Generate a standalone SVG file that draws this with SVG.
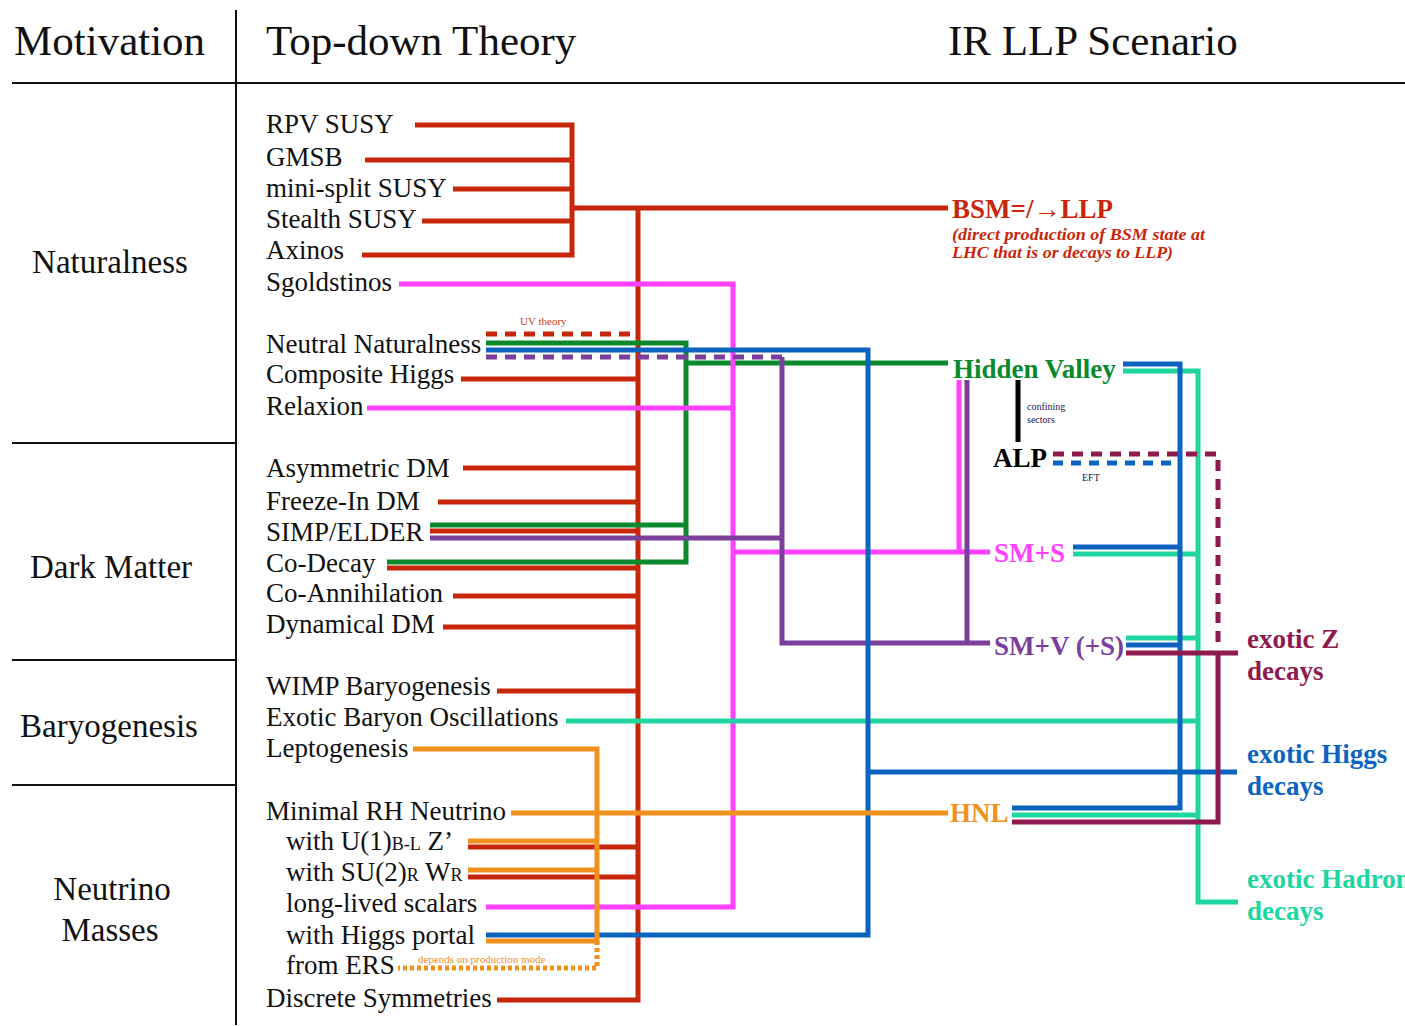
<svg xmlns="http://www.w3.org/2000/svg" width="1405" height="1026" viewBox="0 0 1405 1026">
  <style>
    text { font-family: "Liberation Serif", "Times New Roman", serif; fill: #111; }
    .hd { font-size: 43px; }
    .cat { font-size: 33px; text-anchor: middle; }
    .it { font-size: 27px; }
    .sub { font-size: 18px; }
    .lb { font-size: 27px; font-weight: bold; }
    .note { font-size: 11px; }
    .rule { stroke: #111; stroke-width: 2; fill: none; }
    .ln { fill: none; stroke-width: 5; stroke-linejoin: miter; stroke-linecap: butt; }
    .red { stroke: #c8260a; }
    .mag { stroke: #ff40ff; }
    .grn { stroke: #0a8a2c; }
    .pur { stroke: #7b3e9b; }
    .blu { stroke: #0b64c0; }
    .tea { stroke: #20d6a0; }
    .mar { stroke: #8e1a4e; }
    .org { stroke: #f2901e; }
    .blk { stroke: #000; }
    .dash { stroke-dasharray: 11 8; }
  </style>

  <!-- table frame -->
  <g id="frame">
    <path class="rule" d="M236,10 V1025"/>
    <path class="rule" d="M12,83 H1405"/>
    <path class="rule" d="M12,443 H236 M12,660 H236 M12,785 H236"/>
    <text class="hd" x="14" y="55">Motivation</text>
    <text class="hd" x="266" y="55">Top-down Theory</text>
    <text class="hd" x="948" y="55">IR LLP Scenario</text>
  </g>

  <!-- motivation categories -->
  <g id="motivations">
    <text id="cat-naturalness" class="cat" x="110" y="273">Naturalness</text>
    <text id="cat-dm" class="cat" x="111" y="578">Dark Matter</text>
    <text id="cat-baryogenesis" class="cat" x="109" y="737">Baryogenesis</text>
    <g id="cat-neutrino">
      <text class="cat" x="112" y="900">Neutrino</text>
      <text class="cat" x="110" y="941">Masses</text>
    </g>
  </g>

  <!-- connectors -->
  <g id="connectors">
    <!-- red: BSM produced directly -->
    <path class="ln red" d="M415,125 H572 V255 H362"/>
    <path class="ln red" d="M365,160 H572 M453,189 H572"/>
    <path class="ln red" d="M422,221 H572" stroke-width="7"/>
    <path class="ln red" d="M572,208 H948" stroke-width="4"/>
    <path class="ln red" d="M638,208 V1000 H497"/>
    <path class="ln red" d="M461,379 H638 M463,468 H638 M438,502 H638 M430,531 H638 M387,568 H638 M453,596 H638 M443,627 H638 M497,691 H638 M468,847 H638 M468,877 H638"/>
    <path class="ln red dash" d="M486,334 H632" stroke-width="7"/>

    <!-- green: hidden valley -->
    <path class="ln grn" d="M486,343 H686 V562 H387"/>
    <path class="ln grn" d="M430,525 H686 M686,363 H948"/>

    <!-- magenta: SM+S -->
    <path class="ln mag" d="M399,284 H733 V907 H486"/>
    <path class="ln mag" d="M367,408 H733 M733,552 H990"/>
    <path class="ln mag" d="M959,380 V552" stroke-width="6"/>

    <!-- purple: SM+V -->
    <path class="ln pur" d="M782,357 V643 H990 M430,538 H782"/>
    <path class="ln pur" d="M967,380 V643" stroke-width="6"/>
    <path class="ln pur dash" d="M486,357 H782" stroke-width="8"/>

    <!-- teal: exotic hadron decays -->
    <path class="ln tea" d="M1123,371 H1198 V902 H1238"/>
    <path class="ln tea" d="M1073,554 H1198 M1012,815 H1198"/>
    <path class="ln tea" d="M1126,638 H1198 M566,721 H1198" stroke-width="4"/>

    <!-- blue: exotic Higgs decays -->
    <path class="ln blu" d="M486,350 H868 V935 H486" stroke-width="6"/>
    <path class="ln blu" d="M868,772 H1237"/>
    <path class="ln blu" d="M1123,364 H1180 V808 H1012" stroke-width="7"/>
    <path class="ln blu" d="M1073,547 H1180" stroke-width="6"/>
    <path class="ln blu" d="M1126,645 H1180" stroke-width="4"/>
    <path class="ln blu" d="M1053,463 H1180" stroke-width="4" stroke-dasharray="10 8"/>

    <!-- maroon: exotic Z decays -->
    <path class="ln mar dash" d="M1053,454 H1218 V648" stroke-width="6"/>
    <path class="ln mar" d="M1126,653 H1238 M1218,653 V822 H1012"/>

    <!-- orange: heavy neutral leptons -->
    <path class="ln org" d="M413,749 H597 V941 H486"/>
    <path class="ln org" d="M511,813 H948" stroke-width="7"/>
    <path class="ln org" d="M468,841 H597 M468,870 H597"/>
    <path class="ln org" d="M597,941 V968 H398" stroke-width="6" stroke-dasharray="4 3"/>

    <!-- black: confining sectors -->
    <path class="ln blk" d="M1018,380 V442"/>

    <!-- connector annotations -->
    <text class="note" x="520" y="325" fill="#d03a1a" style="fill:#d03a1a">UV theory</text>
    <text class="note" x="1027" y="410" style="font-size:10px;fill:#1a2050">confining</text>
    <text class="note" x="1027" y="423" style="font-size:10px;fill:#1a2050">sectors</text>
    <text class="note" x="1082" y="481" style="font-size:10px;fill:#1a2050">EFT</text>
    <text class="note" x="418" y="963" style="fill:#f2901e">depends on production mode</text>
  </g>

  <!-- top-down theories -->
  <g id="theories" class="it">
    <text id="t-rpv" class="it" x="266" y="133">RPV SUSY</text>
    <text id="t-gmsb" class="it" x="266" y="166">GMSB</text>
    <text id="t-minisplit" class="it" x="266" y="197">mini-split SUSY</text>
    <text id="t-stealth" class="it" x="266" y="228">Stealth SUSY</text>
    <text id="t-axinos" class="it" x="266" y="259">Axinos</text>
    <text id="t-sgoldstinos" class="it" x="266" y="291">Sgoldstinos</text>
    <text id="t-neutral" class="it" x="266" y="353">Neutral Naturalness</text>
    <text id="t-composite" class="it" x="266" y="383">Composite Higgs</text>
    <text id="t-relaxion" class="it" x="266" y="415">Relaxion</text>
    <text id="t-asym" class="it" x="266" y="477">Asymmetric DM</text>
    <text id="t-freeze" class="it" x="266" y="510">Freeze-In DM</text>
    <text id="t-simp" class="it" x="266" y="541">SIMP/ELDER</text>
    <text id="t-codecay" class="it" x="266" y="572">Co-Decay</text>
    <text id="t-coann" class="it" x="266" y="602">Co-Annihilation</text>
    <text id="t-dyn" class="it" x="266" y="633">Dynamical DM</text>
    <text id="t-wimp" class="it" x="266" y="695">WIMP Baryogenesis</text>
    <text id="t-exotic-baryon" class="it" x="266" y="726">Exotic Baryon Oscillations</text>
    <text id="t-lepto" class="it" x="266" y="757">Leptogenesis</text>
    <text id="t-minimal-rh" class="it" x="266" y="820">Minimal RH Neutrino</text>
    <text id="t-u1" class="it" x="286" y="850">with U(1)<tspan class="sub">B-L</tspan> Z’</text>
    <text id="t-su2" class="it" x="286" y="881">with SU(2)<tspan class="sub">R</tspan> W<tspan class="sub">R</tspan></text>
    <text id="t-llscalars" class="it" x="286" y="912">long-lived scalars</text>
    <text id="t-higgs-portal" class="it" x="286" y="944">with Higgs portal</text>
    <text id="t-ers" class="it" x="286" y="974">from ERS</text>
    <text id="t-discrete" class="it" x="266" y="1007">Discrete Symmetries</text>
  </g>

  <!-- IR LLP scenarios -->
  <g id="scenarios">
    <g id="s-bsm">
      <text class="lb" x="952" y="218" style="fill:#c8260a">BSM=/→LLP</text>
      <text x="952" y="240" textLength="253" lengthAdjust="spacingAndGlyphs" style="font-size:16px;font-style:italic;font-weight:bold;fill:#c8260a">(direct production of BSM state at</text>
      <text x="952" y="258" textLength="221" lengthAdjust="spacingAndGlyphs" style="font-size:16px;font-style:italic;font-weight:bold;fill:#c8260a">LHC that is or decays to LLP)</text>
    </g>
    <text id="s-hv" class="lb" x="953" y="378" style="fill:#0a8a2c">Hidden Valley</text>
    <text id="s-alp" class="lb" x="993" y="467" style="fill:#000">ALP</text>
    <text id="s-sms" class="lb" x="994" y="562" style="fill:#ff40ff">SM+S</text>
    <text id="s-smv" class="lb" x="994" y="655" style="fill:#7b3e9b">SM+V (+S)</text>
    <text id="s-hnl" class="lb" x="950" y="822" style="fill:#f2901e">HNL</text>
  </g>

  <!-- observable signatures -->
  <g id="signatures">
    <g id="sig-z">
      <text class="lb" x="1247" y="648" style="fill:#8e1a4e">exotic Z</text>
      <text class="lb" x="1247" y="680" style="fill:#8e1a4e">decays</text>
    </g>
    <g id="sig-higgs">
      <text class="lb" x="1247" y="763" style="fill:#0b64c0">exotic Higgs</text>
      <text class="lb" x="1247" y="795" style="fill:#0b64c0">decays</text>
    </g>
    <g id="sig-hadron">
      <text class="lb" x="1247" y="888" style="fill:#20d6a0">exotic Hadron</text>
      <text class="lb" x="1247" y="920" style="fill:#20d6a0">decays</text>
    </g>
  </g>
</svg>
